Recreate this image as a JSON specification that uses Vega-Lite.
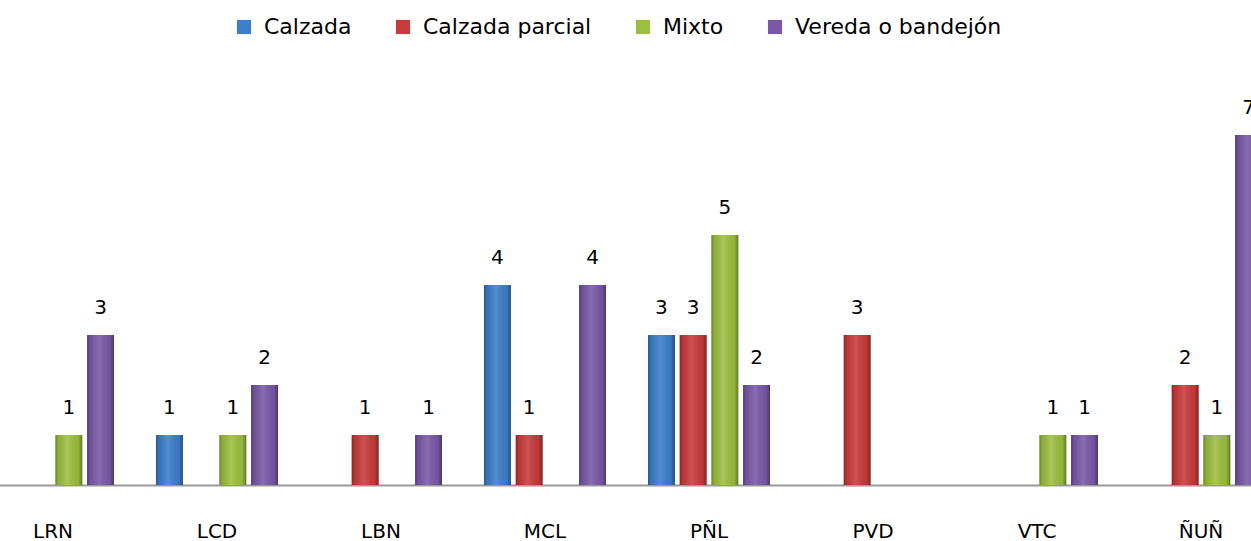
{
  "$schema": "https://vega.github.io/schema/vega-lite/v6.json",
  "autosize": "none",
  "width": 1312,
  "height": 400,
  "padding": {"left": -29, "top": 85, "right": 0, "bottom": 56},
  "background": "white",
  "config": {
    "view": {"stroke": null},
    "font": "DejaVu Sans"
  },
  "data": {
    "values": [
      {"zona": "LRN", "tipo": "Mixto", "n": 1},
      {"zona": "LRN", "tipo": "Vereda o bandejón", "n": 3},
      {"zona": "LCD", "tipo": "Calzada", "n": 1},
      {"zona": "LCD", "tipo": "Mixto", "n": 1},
      {"zona": "LCD", "tipo": "Vereda o bandejón", "n": 2},
      {"zona": "LBN", "tipo": "Calzada parcial", "n": 1},
      {"zona": "LBN", "tipo": "Vereda o bandejón", "n": 1},
      {"zona": "MCL", "tipo": "Calzada", "n": 4},
      {"zona": "MCL", "tipo": "Calzada parcial", "n": 1},
      {"zona": "MCL", "tipo": "Vereda o bandejón", "n": 4},
      {"zona": "PÑL", "tipo": "Calzada", "n": 3},
      {"zona": "PÑL", "tipo": "Calzada parcial", "n": 3},
      {"zona": "PÑL", "tipo": "Mixto", "n": 5},
      {"zona": "PÑL", "tipo": "Vereda o bandejón", "n": 2},
      {"zona": "PVD", "tipo": "Calzada parcial", "n": 3},
      {"zona": "VTC", "tipo": "Mixto", "n": 1},
      {"zona": "VTC", "tipo": "Vereda o bandejón", "n": 1},
      {"zona": "ÑUÑ", "tipo": "Calzada parcial", "n": 2},
      {"zona": "ÑUÑ", "tipo": "Mixto", "n": 1},
      {"zona": "ÑUÑ", "tipo": "Vereda o bandejón", "n": 7}
    ]
  },
  "encoding": {
    "x": {
      "field": "zona",
      "type": "nominal",
      "sort": ["LRN", "LCD", "LBN", "MCL", "PÑL", "PVD", "VTC", "ÑUÑ"],
      "scale": {"paddingInner": 0.256, "paddingOuter": 0.128},
      "axis": {
        "title": null,
        "labelAngle": 0,
        "labelFont": "DejaVu Sans",
        "labelFontSize": 20,
        "labelColor": "#000000",
        "labelBaseline": "alphabetic",
        "labelPadding": 52,
        "ticks": false,
        "tickSize": 0,
        "domainColor": "#999999",
        "domainWidth": 2,
        "grid": false
      }
    },
    "xOffset": {
      "field": "tipo",
      "type": "nominal",
      "scale": {"domain": ["Calzada", "Calzada parcial", "Mixto", "Vereda o bandejón"], "paddingInner": 0.15, "paddingOuter": 0}
    },
    "y": {
      "field": "n",
      "type": "quantitative",
      "scale": {"domain": [0, 8], "nice": false},
      "axis": null
    }
  },
  "layer": [
    {
      "mark": {"type": "bar", "cornerRadius": 0},
      "encoding": {
        "color": {
          "field": "tipo",
          "type": "nominal",
          "scale": {
            "domain": ["Calzada", "Calzada parcial", "Mixto", "Vereda o bandejón"],
            "range": ["#3d7ec9", "#c93a3a", "#9cbf3f", "#7a58a8"]
          },
          "legend": {
            "title": null,
            "orient": "none",
            "direction": "horizontal",
            "legendX": 262,
            "legendY": -69,
            "symbolType": "square",
            "symbolSize": 200,
            "symbolStrokeWidth": 0,
            "labelFont": "DejaVu Sans",
            "labelFontSize": 22,
            "labelLimit": 0,
            "labelColor": "#000000",
            "labelOffset": 9,
            "columnPadding": 40
          }
        }
      }
    },
    {
      "mark": {
        "type": "bar",
        "cornerRadius": 0,
        "color": {
          "gradient": "linear",
          "x1": 0, "y1": 0, "x2": 1, "y2": 0,
          "stops": [
            {"offset": 0, "color": "rgba(0,0,0,0.32)"},
            {"offset": 0.1, "color": "rgba(0,0,0,0.1)"},
            {"offset": 0.45, "color": "rgba(255,255,255,0.12)"},
            {"offset": 0.85, "color": "rgba(0,0,0,0.06)"},
            {"offset": 1, "color": "rgba(0,0,0,0.38)"}
          ]
        }
      },
      "encoding": {}
    },
    {
      "mark": {"type": "text", "dy": -21, "baseline": "alphabetic", "align": "center", "font": "DejaVu Sans", "fontSize": 20, "color": "#000000"},
      "encoding": {
        "text": {"field": "n", "type": "quantitative"}
      }
    }
  ]
}
